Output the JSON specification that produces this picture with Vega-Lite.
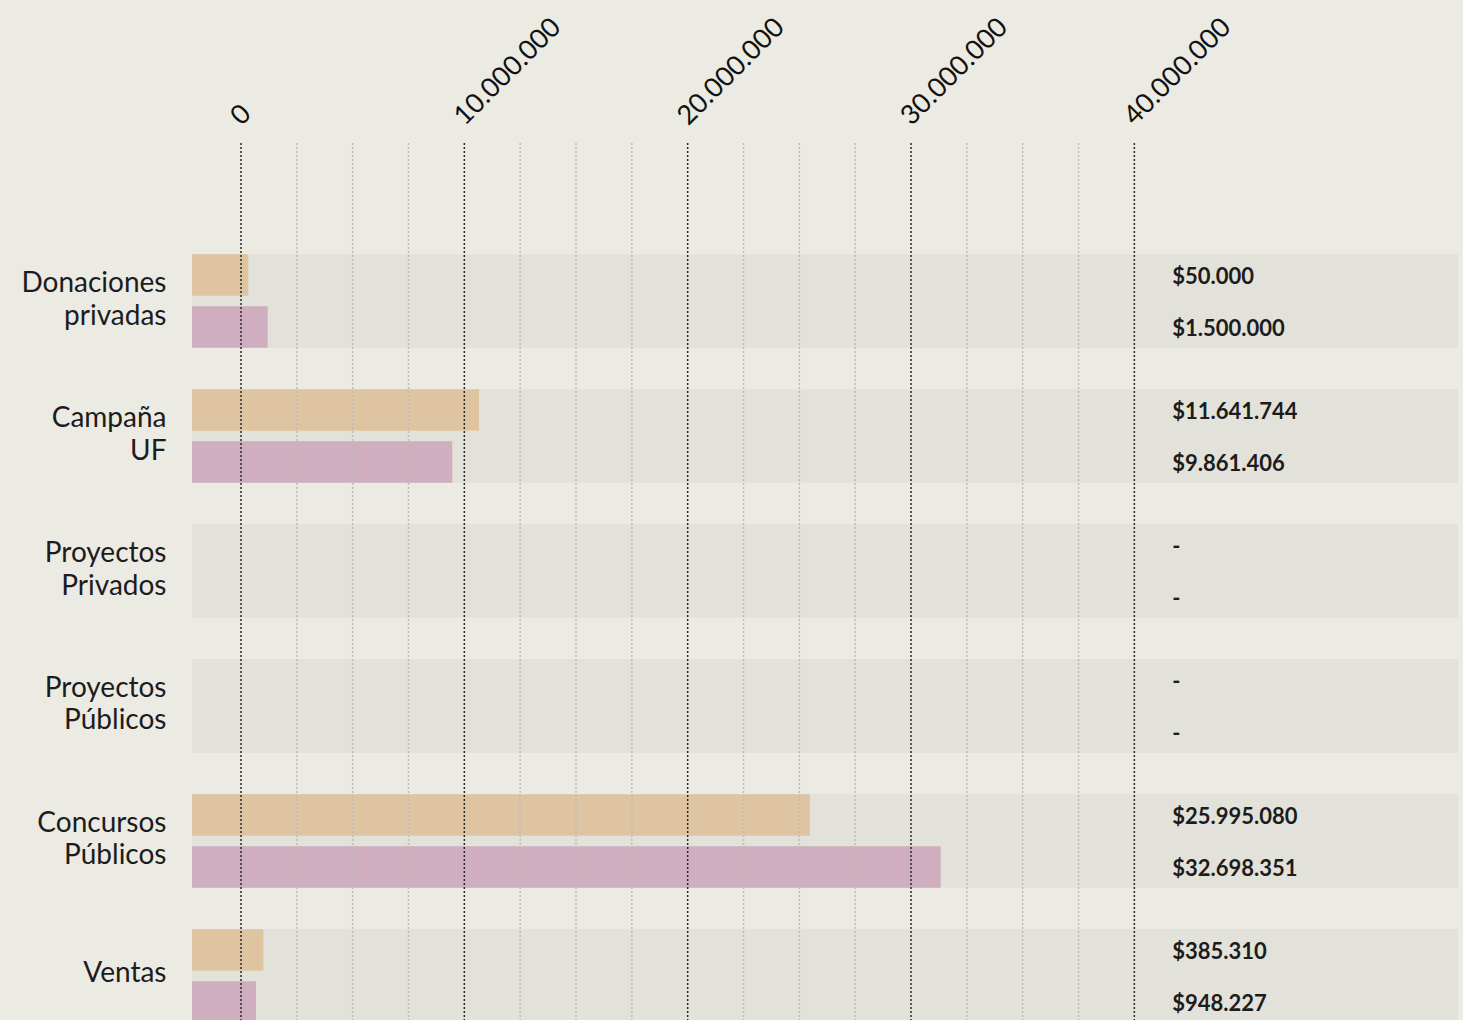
{
  "$schema": "https://vega.github.io/schema/vega-lite/v6.json",
  "width": 1266,
  "height": 877,
  "autosize": {"type": "none"},
  "padding": {"left": 192, "top": 143, "right": 5, "bottom": 0},
  "background": "#EBEAE3",
  "config": {
    "view": {"stroke": null},
    "axis": {"grid": false, "domain": false, "ticks": false}
  },
  "datasets": {
    "fuentes": [
      {"categoria": "Donaciones privadas", "serie": "A", "valor": 327000, "etiqueta": "$50.000"},
      {"categoria": "Donaciones privadas", "serie": "B", "valor": 1196000, "etiqueta": "$1.500.000"},
      {"categoria": "Campaña UF", "serie": "A", "valor": 10657000, "etiqueta": "$11.641.744"},
      {"categoria": "Campaña UF", "serie": "B", "valor": 9460000, "etiqueta": "$9.861.406"},
      {"categoria": "Proyectos Privados", "serie": "A", "valor": null, "etiqueta": "-"},
      {"categoria": "Proyectos Privados", "serie": "B", "valor": null, "etiqueta": "-"},
      {"categoria": "Proyectos Públicos", "serie": "A", "valor": null, "etiqueta": "-"},
      {"categoria": "Proyectos Públicos", "serie": "B", "valor": null, "etiqueta": "-"},
      {"categoria": "Concursos Públicos", "serie": "A", "valor": 25480000, "etiqueta": "$25.995.080"},
      {"categoria": "Concursos Públicos", "serie": "B", "valor": 31330000, "etiqueta": "$32.698.351"},
      {"categoria": "Ventas", "serie": "A", "valor": 999000, "etiqueta": "$385.310"},
      {"categoria": "Ventas", "serie": "B", "valor": 672000, "etiqueta": "$948.227"}
    ],
    "grilla": [
      {"v": 0}, {"v": 2500000}, {"v": 5000000}, {"v": 7500000},
      {"v": 10000000}, {"v": 12500000}, {"v": 15000000}, {"v": 17500000},
      {"v": 20000000}, {"v": 22500000}, {"v": 25000000}, {"v": 27500000},
      {"v": 30000000}, {"v": 32500000}, {"v": 35000000}, {"v": 37500000},
      {"v": 40000000}
    ]
  },
  "layer": [
    {
      "data": {"name": "fuentes"},
      "mark": {"type": "bar", "color": "#E3E2DA", "clip": true},
      "encoding": {
        "y": {
          "field": "categoria", "type": "nominal",
          "scale": {
            "domain": ["Donaciones privadas", "Campaña UF", "Proyectos Privados", "Proyectos Públicos", "Concursos Públicos", "Ventas"],
            "range": [111.3, 879.7], "paddingInner": 0.308, "paddingOuter": 0
          },
          "axis": {
            "title": null, "labelExpr": "split(datum.label, ' ')",
            "labelFont": "Lato", "labelFontSize": 28, "labelLineHeight": 32.5,
            "labelColor": "#1c1c1c", "labelPadding": 26, "labelAlign": "right", "labelBaseline": "middle",
            "labelOffset": {"condition": {"test": "datum.value === 'Ventas'", "value": -2}, "value": -17}
          }
        },
        "x": {
          "datum": -2194000, "type": "quantitative",
          "scale": {"domain": [-2194000, 54492000], "zero": false, "nice": false},
          "axis": {
            "orient": "top", "title": null,
            "values": [0, 10000000, 20000000, 30000000, 40000000],
            "labelExpr": "replace(replace(format(datum.value, ','), ',', '.'), ',', '.')",
            "labelAngle": -45, "labelAlign": "left", "labelBaseline": "alphabetic",
            "labelFont": "Lato", "labelFontSize": 27, "labelColor": "#111111",
            "labelPadding": 17, "labelOverlap": false, "labelBound": false, "labelFlush": false
          }
        },
        "x2": {"datum": 54492000}
      }
    },
    {
      "data": {"name": "fuentes"},
      "mark": {"type": "bar", "clip": true},
      "encoding": {
        "y": {
          "field": "categoria", "type": "nominal",
          "scale": {
            "domain": ["Donaciones privadas", "Campaña UF", "Proyectos Privados", "Proyectos Públicos", "Concursos Públicos", "Ventas"],
            "range": [111.3, 879.7], "paddingInner": 0.308, "paddingOuter": 0
          },
          "axis": {
            "title": null, "labelExpr": "split(datum.label, ' ')",
            "labelFont": "Lato", "labelFontSize": 28, "labelLineHeight": 32.5,
            "labelColor": "#1c1c1c", "labelPadding": 26, "labelAlign": "right", "labelBaseline": "middle",
            "labelOffset": {"condition": {"test": "datum.value === 'Ventas'", "value": -2}, "value": -17}
          }
        },
        "yOffset": {"field": "serie", "type": "nominal", "scale": {"paddingInner": 0.2, "paddingOuter": 0}},
        "x": {
          "field": "valor", "type": "quantitative",
          "scale": {"domain": [-2194000, 54492000], "zero": false, "nice": false},
          "axis": {
            "orient": "top", "title": null,
            "values": [0, 10000000, 20000000, 30000000, 40000000],
            "labelExpr": "replace(replace(format(datum.value, ','), ',', '.'), ',', '.')",
            "labelAngle": -45, "labelAlign": "left", "labelBaseline": "alphabetic",
            "labelFont": "Lato", "labelFontSize": 27, "labelColor": "#111111",
            "labelPadding": 17, "labelOverlap": false, "labelBound": false, "labelFlush": false
          }
        },
        "x2": {"datum": -2194000},
        "color": {
          "field": "serie", "type": "nominal", "legend": null,
          "scale": {"domain": ["A", "B"], "range": ["#DEC4A1", "#CEAEBF"]}
        }
      }
    },
    {
      "data": {"name": "grilla"},
      "mark": {"type": "rule", "strokeDash": [2, 2], "strokeWidth": 1.5},
      "encoding": {
        "x": {
          "field": "v", "type": "quantitative",
          "scale": {"domain": [-2194000, 54492000], "zero": false, "nice": false},
          "axis": {
            "orient": "top", "title": null,
            "values": [0, 10000000, 20000000, 30000000, 40000000],
            "labelExpr": "replace(replace(format(datum.value, ','), ',', '.'), ',', '.')",
            "labelAngle": -45, "labelAlign": "left", "labelBaseline": "alphabetic",
            "labelFont": "Lato", "labelFontSize": 27, "labelColor": "#111111",
            "labelPadding": 17, "labelOverlap": false, "labelBound": false, "labelFlush": false
          }
        },
        "color": {
          "condition": {"test": "datum.v % 10000000 === 0", "value": "#2a2a2a"},
          "value": "#BEBDB5"
        }
      }
    },
    {
      "data": {"name": "fuentes"},
      "mark": {"type": "text", "align": "left", "baseline": "middle", "dy": 2, "font": "Lato", "fontWeight": "bold", "fontSize": 22, "color": "#1c1c1c"},
      "encoding": {
        "y": {
          "field": "categoria", "type": "nominal",
          "scale": {
            "domain": ["Donaciones privadas", "Campaña UF", "Proyectos Privados", "Proyectos Públicos", "Concursos Públicos", "Ventas"],
            "range": [111.3, 879.7], "paddingInner": 0.308, "paddingOuter": 0
          },
          "axis": {
            "title": null, "labelExpr": "split(datum.label, ' ')",
            "labelFont": "Lato", "labelFontSize": 28, "labelLineHeight": 32.5,
            "labelColor": "#1c1c1c", "labelPadding": 26, "labelAlign": "right", "labelBaseline": "middle",
            "labelOffset": {"condition": {"test": "datum.value === 'Ventas'", "value": -2}, "value": -17}
          }
        },
        "yOffset": {"field": "serie", "type": "nominal", "scale": {"paddingInner": 0.2, "paddingOuter": 0}},
        "x": {
          "datum": 41700000, "type": "quantitative",
          "scale": {"domain": [-2194000, 54492000], "zero": false, "nice": false},
          "axis": {
            "orient": "top", "title": null,
            "values": [0, 10000000, 20000000, 30000000, 40000000],
            "labelExpr": "replace(replace(format(datum.value, ','), ',', '.'), ',', '.')",
            "labelAngle": -45, "labelAlign": "left", "labelBaseline": "alphabetic",
            "labelFont": "Lato", "labelFontSize": 27, "labelColor": "#111111",
            "labelPadding": 17, "labelOverlap": false, "labelBound": false, "labelFlush": false
          }
        },
        "text": {"field": "etiqueta"}
      }
    }
  ]
}
